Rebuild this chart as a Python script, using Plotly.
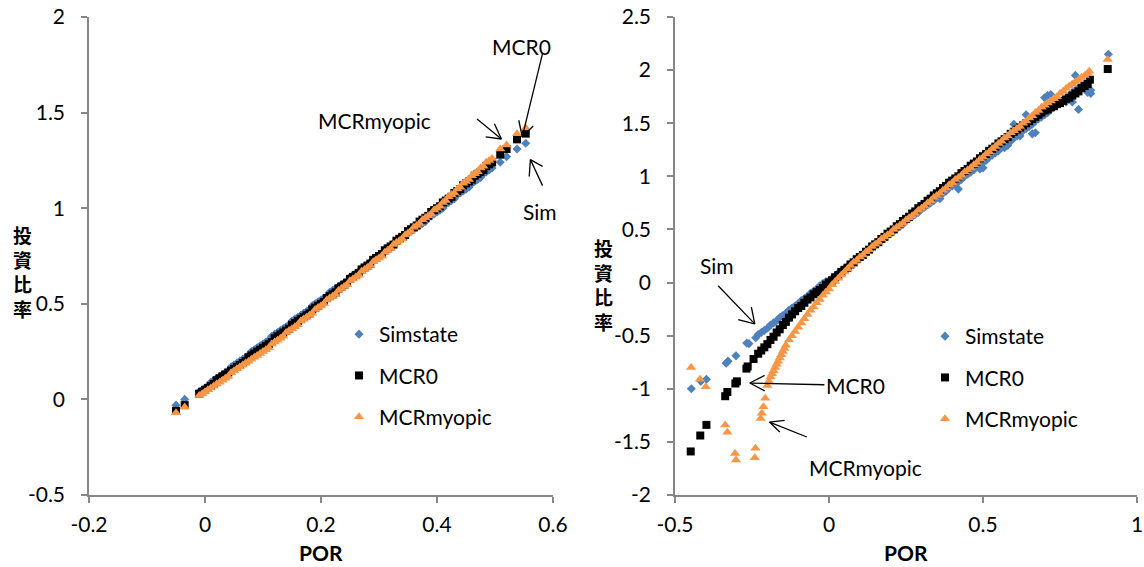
import plotly.graph_objects as go

# ---------------- Left chart data (POR vs 投資比率) ----------------
L_out_x = [-0.05, -0.035]
L_out_sim = [-0.03, 0.00]
L_out_mcr0 = [-0.06, -0.03]
L_out_myo = [-0.07, -0.04]

L_band_x = [-0.010, -0.005, 0.000, 0.005, 0.010, 0.015, 0.020, 0.025, 0.030, 0.035,
            0.040, 0.045, 0.050, 0.055, 0.060, 0.065, 0.070, 0.075, 0.080, 0.085,
            0.090, 0.095, 0.100, 0.105, 0.110, 0.115, 0.120, 0.125, 0.130, 0.135,
            0.140, 0.145, 0.150, 0.155, 0.160, 0.165, 0.170, 0.175, 0.180, 0.185,
            0.190, 0.195, 0.200, 0.205, 0.210, 0.215, 0.220, 0.225, 0.230, 0.235,
            0.240, 0.245, 0.250, 0.255, 0.260, 0.265, 0.270, 0.275, 0.280, 0.285,
            0.290, 0.295, 0.300, 0.305, 0.310, 0.315, 0.320, 0.325, 0.330, 0.335,
            0.340, 0.345, 0.350, 0.355, 0.360, 0.365, 0.370, 0.375, 0.380, 0.385,
            0.390, 0.395, 0.400, 0.405, 0.410, 0.415, 0.420, 0.425, 0.430, 0.435,
            0.440, 0.445, 0.450, 0.455, 0.460, 0.465, 0.470, 0.475, 0.480, 0.485,
            0.490, 0.495]
L_band_sim = [0.04, 0.05, 0.06, 0.07, 0.09, 0.10, 0.11, 0.12, 0.13, 0.14,
              0.15, 0.17, 0.18, 0.19, 0.20, 0.21, 0.22, 0.23, 0.25, 0.26,
              0.27, 0.28, 0.29, 0.30, 0.31, 0.33, 0.34, 0.35, 0.36, 0.37,
              0.38, 0.39, 0.41, 0.42, 0.43, 0.44, 0.45, 0.46, 0.47, 0.49,
              0.50, 0.51, 0.52, 0.53, 0.54, 0.56, 0.57, 0.58, 0.59, 0.60,
              0.61, 0.62, 0.64, 0.65, 0.66, 0.67, 0.68, 0.69, 0.70, 0.72,
              0.73, 0.74, 0.75, 0.76, 0.77, 0.79, 0.80, 0.81, 0.82, 0.83,
              0.84, 0.85, 0.87, 0.88, 0.89, 0.90, 0.91, 0.92, 0.93, 0.95,
              0.96, 0.97, 0.98, 0.99, 1.00, 1.02, 1.03, 1.04, 1.05, 1.07,
              1.08, 1.09, 1.10, 1.11, 1.13, 1.14, 1.15, 1.16, 1.18, 1.19,
              1.20, 1.21]
L_band_mcr0 = [0.03, 0.04, 0.05, 0.06, 0.07, 0.08, 0.10, 0.11, 0.12, 0.13,
               0.14, 0.15, 0.16, 0.17, 0.18, 0.19, 0.20, 0.22, 0.23, 0.24,
               0.25, 0.26, 0.27, 0.28, 0.29, 0.30, 0.32, 0.33, 0.34, 0.35,
               0.36, 0.37, 0.39, 0.40, 0.41, 0.42, 0.43, 0.44, 0.45, 0.47,
               0.48, 0.49, 0.50, 0.51, 0.53, 0.54, 0.55, 0.56, 0.58, 0.59,
               0.60, 0.61, 0.63, 0.64, 0.65, 0.66, 0.68, 0.69, 0.70, 0.71,
               0.73, 0.74, 0.75, 0.76, 0.78, 0.79, 0.80, 0.81, 0.83, 0.84,
               0.85, 0.86, 0.88, 0.89, 0.90, 0.91, 0.93, 0.94, 0.95, 0.96,
               0.98, 0.99, 1.00, 1.01, 1.03, 1.04, 1.05, 1.06, 1.08, 1.09,
               1.10, 1.12, 1.13, 1.14, 1.15, 1.17, 1.18, 1.19, 1.20, 1.22,
               1.23, 1.24]
L_band_myo = [0.02, 0.03, 0.04, 0.05, 0.06, 0.07, 0.08, 0.09, 0.10, 0.11,
              0.12, 0.14, 0.15, 0.16, 0.17, 0.18, 0.19, 0.20, 0.21, 0.22,
              0.23, 0.24, 0.25, 0.26, 0.27, 0.29, 0.30, 0.31, 0.32, 0.33,
              0.35, 0.36, 0.37, 0.38, 0.39, 0.41, 0.42, 0.43, 0.44, 0.45,
              0.47, 0.48, 0.49, 0.50, 0.52, 0.53, 0.54, 0.55, 0.57, 0.58,
              0.59, 0.60, 0.62, 0.63, 0.64, 0.65, 0.67, 0.68, 0.69, 0.70,
              0.72, 0.73, 0.74, 0.75, 0.77, 0.78, 0.79, 0.81, 0.82, 0.83,
              0.84, 0.86, 0.87, 0.88, 0.90, 0.91, 0.92, 0.94, 0.95, 0.96,
              0.97, 0.99, 1.00, 1.01, 1.03, 1.04, 1.06, 1.07, 1.08, 1.10,
              1.11, 1.13, 1.14, 1.15, 1.17, 1.18, 1.19, 1.21, 1.22, 1.24,
              1.25, 1.26]

L_tail_x = [0.509, 0.520, 0.538, 0.553]
L_tail_sim = [1.24, 1.27, 1.31, 1.34]
L_tail_mcr0 = [1.28, 1.31, 1.36, 1.39]
L_tail_myo = [1.31, 1.33, 1.39, 1.42]

# ---------------- Right chart data ----------------
# Simstate
R_sim_out_x = [-0.447, -0.416, -0.398, -0.334, -0.328, -0.302, -0.267, -0.26, -0.238]
R_sim_out_y = [-1.00, -0.93, -0.91, -0.76, -0.74, -0.69, -0.57, -0.575, -0.52]
R_sim_neg_x = [-0.23, -0.22, -0.21, -0.20, -0.19, -0.18, -0.17, -0.16, -0.15, -0.14,
               -0.13, -0.12, -0.11, -0.10, -0.09, -0.08, -0.07, -0.06, -0.05, -0.04,
               -0.03, -0.02, -0.01]
R_sim_neg_y = [-0.49, -0.47, -0.45, -0.43, -0.40, -0.38, -0.36, -0.33, -0.31, -0.29,
               -0.26, -0.24, -0.22, -0.20, -0.17, -0.15, -0.13, -0.10, -0.08, -0.06,
               -0.03, -0.01, 0.01]
R_pos_x = [0.00, 0.01, 0.02, 0.03, 0.04, 0.05, 0.06, 0.07, 0.08, 0.09,
           0.10, 0.11, 0.12, 0.13, 0.14, 0.15, 0.16, 0.17, 0.18, 0.19,
           0.20, 0.21, 0.22, 0.23, 0.24, 0.25, 0.26, 0.27, 0.28, 0.29,
           0.30, 0.31, 0.32, 0.33, 0.34, 0.35, 0.36, 0.37, 0.38, 0.39,
           0.40, 0.41, 0.42, 0.43, 0.44, 0.45, 0.46, 0.47, 0.48, 0.49,
           0.50, 0.51, 0.52, 0.53, 0.54, 0.55, 0.56, 0.57, 0.58, 0.59,
           0.60, 0.61, 0.62, 0.63, 0.64, 0.65, 0.66, 0.67, 0.68, 0.69,
           0.70, 0.71, 0.72, 0.73, 0.74, 0.75, 0.76, 0.77, 0.78, 0.79,
           0.80, 0.81, 0.82, 0.83, 0.84]
R_sim_pos_y = [0.02, 0.04, 0.06, 0.09, 0.11, 0.13, 0.15, 0.18, 0.20, 0.22,
               0.24, 0.26, 0.29, 0.31, 0.33, 0.35, 0.38, 0.40, 0.42, 0.44,
               0.46, 0.49, 0.51, 0.53, 0.55, 0.58, 0.60, 0.62, 0.64, 0.66,
               0.69, 0.71, 0.73, 0.75, 0.77, 0.80, 0.82, 0.84, 0.86, 0.89,
               0.91, 0.93, 0.95, 0.97, 1.00, 1.02, 1.04, 1.06, 1.09, 1.11,
               1.13, 1.15, 1.18, 1.20, 1.22, 1.24, 1.27, 1.29, 1.31, 1.33,
               1.36, 1.38, 1.40, 1.43, 1.45, 1.47, 1.49, 1.52, 1.54, 1.56,
               1.58, 1.61, 1.63, 1.65, 1.67, 1.70, 1.72, 1.74, 1.76, 1.79,
               1.81, 1.83, 1.85, 1.87, 1.89]
R_sim_scatter_x = [0.36, 0.42, 0.49, 0.50, 0.52, 0.57, 0.58, 0.60, 0.61, 0.62,
                   0.64, 0.66, 0.66, 0.67, 0.70, 0.71, 0.72, 0.71, 0.77, 0.79,
                   0.80, 0.81, 0.84, 0.85, 0.85, 0.907]
R_sim_scatter_y = [0.79, 0.88, 1.07, 1.08, 1.24, 1.27, 1.29, 1.49, 1.42, 1.38,
                   1.58, 1.56, 1.40, 1.41, 1.74, 1.76, 1.77, 1.60, 1.70, 1.70,
                   1.95, 1.63, 1.79, 1.78, 1.81, 2.15]

# MCR0
R_mcr_out_x = [-0.449, -0.418, -0.398, -0.337, -0.330, -0.304, -0.299, -0.268, -0.264, -0.245]
R_mcr_out_y = [-1.59, -1.44, -1.34, -1.07, -1.03, -0.95, -0.93, -0.81, -0.79, -0.72]
R_mcr_neg_x = [-0.23, -0.22, -0.21, -0.20, -0.19, -0.18, -0.17, -0.16, -0.15, -0.14,
               -0.13, -0.12, -0.11, -0.10, -0.09, -0.08, -0.07, -0.06, -0.05, -0.04,
               -0.03, -0.02, -0.01]
R_mcr_neg_y = [-0.67, -0.64, -0.61, -0.58, -0.54, -0.51, -0.47, -0.44, -0.40, -0.37,
               -0.33, -0.30, -0.27, -0.24, -0.22, -0.19, -0.16, -0.14, -0.11, -0.09,
               -0.07, -0.05, -0.02]
R_mcr_pos_y = [0.00, 0.02, 0.05, 0.07, 0.10, 0.12, 0.14, 0.17, 0.19, 0.22,
               0.24, 0.26, 0.29, 0.31, 0.34, 0.36, 0.38, 0.41, 0.43, 0.46,
               0.48, 0.50, 0.53, 0.55, 0.58, 0.60, 0.62, 0.65, 0.67, 0.70,
               0.72, 0.74, 0.77, 0.79, 0.82, 0.84, 0.86, 0.89, 0.91, 0.94,
               0.96, 0.98, 1.00, 1.03, 1.05, 1.07, 1.10, 1.12, 1.14, 1.17,
               1.19, 1.21, 1.24, 1.26, 1.28, 1.31, 1.33, 1.35, 1.37, 1.40,
               1.42, 1.44, 1.46, 1.48, 1.50, 1.52, 1.54, 1.56, 1.58, 1.60,
               1.62, 1.63, 1.65, 1.66, 1.68, 1.69, 1.71, 1.73, 1.74, 1.76,
               1.78, 1.80, 1.83, 1.85, 1.87]
R_mcr_tail_x = [0.847, 0.905]
R_mcr_tail_y = [1.91, 2.01]

# MCRmyopic
R_myo_out_x = [-0.448, -0.419, -0.400, -0.337, -0.330, -0.305, -0.302, -0.239, -0.241,
               -0.222, -0.218, -0.213, -0.207]
R_myo_out_y = [-0.80, -0.91, -0.98, -1.34, -1.41, -1.61, -1.67, -1.56, -1.65,
               -1.28, -1.23, -1.17, -1.09]
R_myo_curve_x = [-0.200, -0.195, -0.190, -0.185, -0.180, -0.175, -0.170, -0.165, -0.160,
                 -0.155, -0.150, -0.145, -0.140, -0.13, -0.12, -0.11, -0.10, -0.09,
                 -0.08, -0.07, -0.06, -0.05, -0.04, -0.03, -0.02, -0.01,
                 0.00, 0.01, 0.02, 0.03, 0.04, 0.05, 0.06, 0.07, 0.08, 0.09]
R_myo_curve_y = [-0.97, -0.93, -0.89, -0.86, -0.83, -0.80, -0.77, -0.74, -0.71,
                 -0.68, -0.65, -0.62, -0.59, -0.54, -0.50, -0.46, -0.42, -0.38,
                 -0.34, -0.30, -0.26, -0.23, -0.19, -0.16, -0.12, -0.09,
                 -0.06, -0.02, 0.01, 0.04, 0.07, 0.10, 0.13, 0.16, 0.19, 0.21]
R_myo_pos_y = [0.24, 0.26, 0.29, 0.31, 0.34, 0.36, 0.38, 0.41, 0.43, 0.45,
               0.47, 0.50, 0.52, 0.54, 0.56, 0.59, 0.61, 0.63, 0.65, 0.68,
               0.70, 0.72, 0.75, 0.77, 0.80, 0.82, 0.84, 0.87, 0.89, 0.92,
               0.94, 0.97, 0.99, 1.01, 1.04, 1.06, 1.08, 1.11, 1.13, 1.16,
               1.18, 1.21, 1.23, 1.26, 1.28, 1.31, 1.33, 1.36, 1.38, 1.41,
               1.43, 1.45, 1.47, 1.50, 1.52, 1.55, 1.57, 1.60, 1.62, 1.65,
               1.67, 1.69, 1.71, 1.73, 1.75, 1.78, 1.80, 1.83, 1.85, 1.87,
               1.89, 1.91, 1.93, 1.95, 1.97]   # x = 0.10 ... 0.84
R_myo_tail_x = [0.845, 0.905]
R_myo_tail_y = [1.99, 2.10]

series_names = ["Simstate", "MCR0", "MCRmyopic"]
L_xticks = [-0.2, 0, 0.2, 0.4, 0.6]
L_xtext = ["-0.2", "0", "0.2", "0.4", "0.6"]
L_yticks = [-0.5, 0, 0.5, 1, 1.5, 2]
L_ytext = ["-0.5", "0", "0.5", "1", "1.5", "2"]
R_xticks = [-0.5, 0, 0.5, 1]
R_xtext = ["-0.5", "0", "0.5", "1"]
R_yticks = [-2, -1.5, -1, -0.5, 0, 0.5, 1, 1.5, 2, 2.5]
R_ytext = ["-2", "-1.5", "-1", "-0.5", "0", "0.5", "1", "1.5", "2", "2.5"]

BLUE = "#4F81BD"
BLACK = "#000000"
ORANGE = "#F79646"
FONT = "Lato"
FS = 21
W, H = 1144, 567

# assemble series
left_sets = [
    (L_out_x + L_band_x + L_tail_x, L_out_sim + L_band_sim + L_tail_sim),
    (L_out_x + L_band_x + L_tail_x, L_out_mcr0 + L_band_mcr0 + L_tail_mcr0),
    (L_out_x + L_band_x + L_tail_x, L_out_myo + L_band_myo + L_tail_myo),
]
right_sets = [
    (R_sim_out_x + R_sim_neg_x + R_pos_x + R_sim_scatter_x,
     R_sim_out_y + R_sim_neg_y + R_sim_pos_y + R_sim_scatter_y),
    (R_mcr_out_x + R_mcr_neg_x + R_pos_x + R_mcr_tail_x,
     R_mcr_out_y + R_mcr_neg_y + R_mcr_pos_y + R_mcr_tail_y),
    (R_myo_out_x + R_myo_curve_x + R_pos_x[10:] + R_myo_tail_x,
     R_myo_out_y + R_myo_curve_y + R_myo_pos_y + R_myo_tail_y),
]

styles = [
    dict(symbol="diamond", color=BLUE, size=7),
    dict(symbol="square", color=BLACK, size=8),
    dict(symbol="triangle-up", color=ORANGE, size=9),
]

fig = go.Figure()
for i, (xs, ys) in enumerate(left_sets):
    fig.add_trace(go.Scatter(
        x=xs, y=ys, mode="markers", name=series_names[i],
        marker=dict(symbol=styles[i]["symbol"], color=styles[i]["color"],
                    size=styles[i]["size"], line=dict(width=0)),
        xaxis="x", yaxis="y", legend="legend", legendgroup="L%d" % i))
for i, (xs, ys) in enumerate(right_sets):
    fig.add_trace(go.Scatter(
        x=xs, y=ys, mode="markers", name=series_names[i],
        marker=dict(symbol=styles[i]["symbol"], color=styles[i]["color"],
                    size=styles[i]["size"], line=dict(width=0)),
        xaxis="x2", yaxis="y2", legend="legend2", legendgroup="R%d" % i))

axis_common = dict(showgrid=False, zeroline=False, showline=True,
                   linecolor="#868686", linewidth=1.5, ticks="outside",
                   ticklen=6, tickwidth=1.5, tickcolor="#868686",
                   tickfont=dict(family=FONT, size=FS, color="black"),
                   fixedrange=True, automargin=False)
xaxis_extra = dict(ticklabelstandoff=4)
yaxis_extra = dict(ticklabelstandoff=12)

ydom = [1 - 495 / H, 1 - 17 / H]
legend_common = dict(xanchor="left", yanchor="top",
                     font=dict(family=FONT, size=FS, color="black"),
                     bgcolor="rgba(0,0,0,0)", tracegroupgap=11, itemwidth=30)
fig.update_layout(
    width=W, height=H,
    margin=dict(l=0, r=0, t=0, b=0, autoexpand=False),
    paper_bgcolor="white", plot_bgcolor="white",
    xaxis=dict(domain=[89 / W, 553 / W], range=[-0.2, 0.6],
               tickvals=L_xticks, ticktext=L_xtext, anchor="y", **axis_common, **xaxis_extra),
    yaxis=dict(domain=ydom, range=[-0.5, 2],
               tickvals=L_yticks, ticktext=L_ytext, anchor="x", **axis_common, **yaxis_extra),
    xaxis2=dict(domain=[675 / W, 1137 / W], range=[-0.5, 1],
                tickvals=R_xticks, ticktext=R_xtext, anchor="y2", **axis_common, **xaxis_extra),
    yaxis2=dict(domain=ydom, range=[-2, 2.5],
                tickvals=R_yticks, ticktext=R_ytext, anchor="x2", **axis_common, **yaxis_extra),
    legend=dict(x=339 / W, y=1 - 314 / H, **legend_common),
    legend2=dict(x=925 / W, y=1 - 316 / H, **legend_common),
    showlegend=True,
)

ann_font = dict(family=FONT, size=FS, color="black")
cjk_font = dict(family="Noto Sans CJK TC", size=19, color="black")
annotations = [
    # left chart labels
    dict(x=0.545, y=1.847, xref="x", yref="y", text="MCR0", font=ann_font),
    dict(x=0.293, y=1.457, xref="x", yref="y", text="MCRmyopic", font=ann_font),
    dict(x=0.578, y=0.983, xref="x", yref="y", text="Sim", font=ann_font),
    # right chart labels
    dict(x=-0.365, y=0.16, xref="x2", yref="y2", text="Sim", font=ann_font),
    dict(x=-0.015, y=-0.968, xref="x2", yref="y2", text="MCR0", xanchor="left", font=ann_font),
    dict(x=0.12, y=-1.74, xref="x2", yref="y2", text="MCRmyopic", font=ann_font),
    # axis titles
    dict(x=321 / W, y=1 - 552 / H, xref="paper", yref="paper", text="<b>POR</b>", font=ann_font),
    dict(x=906 / W, y=1 - 552 / H, xref="paper", yref="paper", text="<b>POR</b>", font=ann_font),
    dict(x=22 / W, y=1 - 271 / H, xref="paper", yref="paper",
         text="<b>投<br>資<br>比<br>率</b>", font=cjk_font),
    dict(x=603 / W, y=1 - 284 / H, xref="paper", yref="paper",
         text="<b>投<br>資<br>比<br>率</b>", font=cjk_font),
]
for a in annotations:
    a.setdefault("xanchor", "center")
    a["yanchor"] = "middle"
    a["showarrow"] = False
fig.update_layout(annotations=annotations)

# open "V" arrows: (xref, yref, tail, tip, barb1, barb2)
arrows = [
    ("x", "y", (0.582, 1.81), (0.547, 1.373), (0.541, 1.46), (0.566, 1.43)),
    ("x", "y", (0.469, 1.467), (0.511, 1.362), (0.499, 1.442), (0.484, 1.373)),
    ("x", "y", (0.582, 1.118), (0.561, 1.254), (0.559, 1.166), (0.582, 1.219)),
    ("x2", "y2", (-0.36, -0.03), (-0.241, -0.389), (-0.295, -0.35), (-0.252, -0.232)),
    ("x2", "y2", (-0.015, -0.962), (-0.257, -0.946), (-0.209, -0.874), (-0.209, -1.02)),
    ("x2", "y2", (-0.072, -1.454), (-0.193, -1.313), (-0.144, -1.297), (-0.160, -1.407)),
]
shapes = []
for xr, yr, tail, tip, b1, b2 in arrows:
    for a, b in ((tail, tip), (b1, tip), (b2, tip)):
        shapes.append(dict(type="line", xref=xr, yref=yr, x0=a[0], y0=a[1],
                           x1=b[0], y1=b[1], line=dict(color="black", width=1.3)))
fig.update_layout(shapes=shapes)

fig.write_html("out.html",
               config={"displayModeBar": False},
               post_script="document.body.style.margin='0';document.body.style.padding='0';")
